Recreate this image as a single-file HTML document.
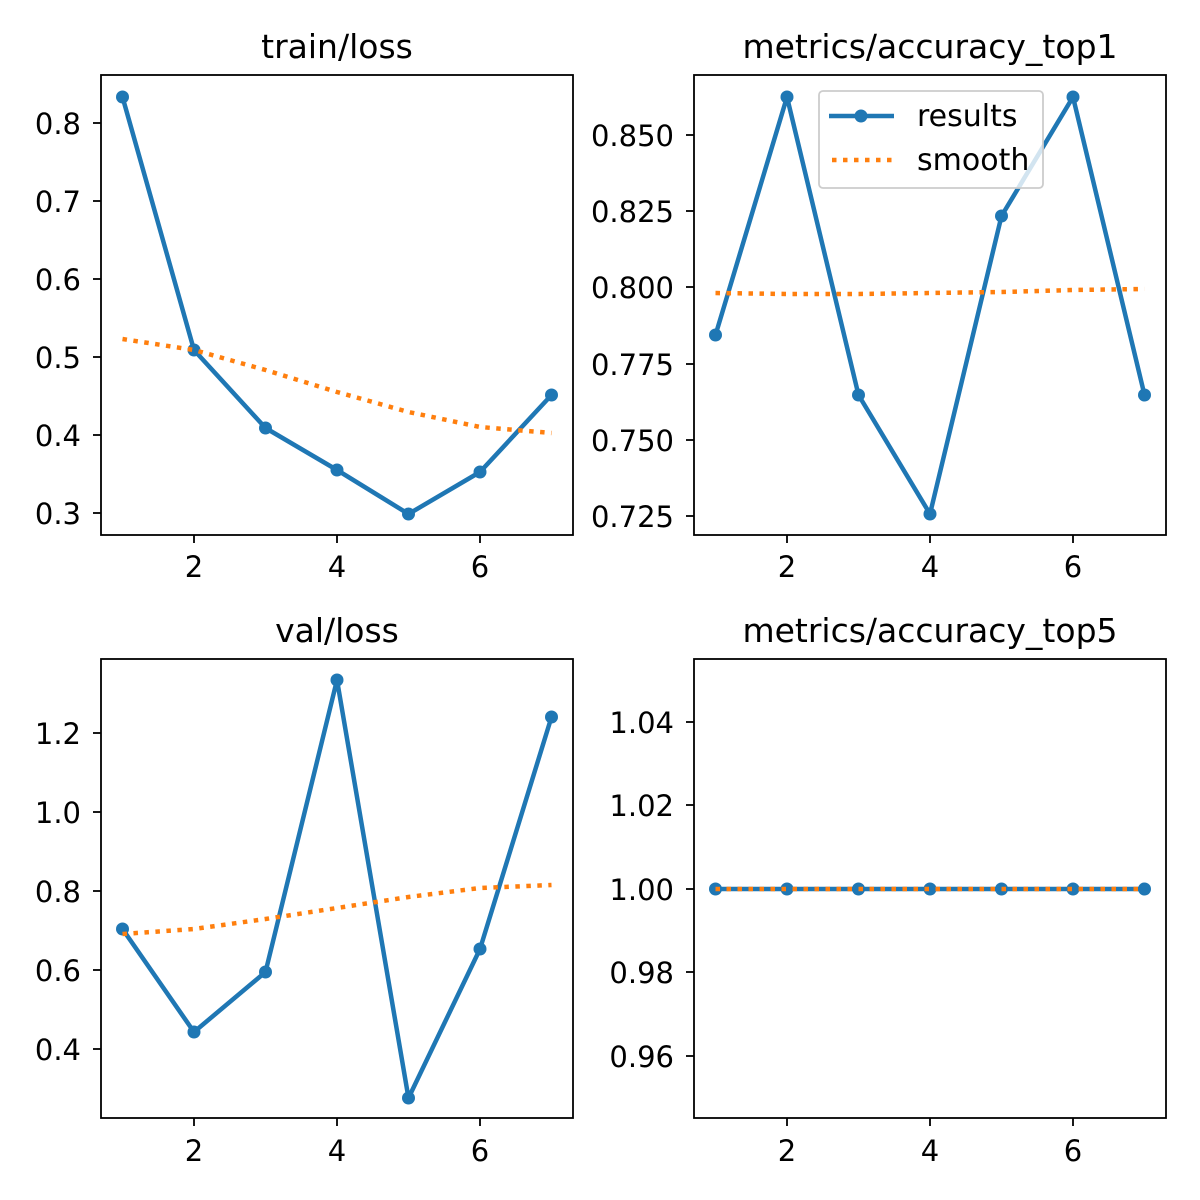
<!DOCTYPE html>
<html><head><meta charset="utf-8"><style>body{margin:0;background:#fff}svg{display:block}text{font-family:"DejaVu Sans","Liberation Sans",sans-serif;fill:#000}</style></head>
<body>
<svg width="1200" height="1200" viewBox="0 0 1200 1200" xmlns="http://www.w3.org/2000/svg">
<g font-size="29">
<!-- Panel 1 -->
<rect x="101" y="75" width="472" height="460" fill="none" stroke="#000" stroke-width="1.8"/>
<text x="337" y="58" font-size="33" text-anchor="middle">train/loss</text>
<g stroke="#000" stroke-width="1.8">
<line x1="93" y1="123" x2="101" y2="123"/><line x1="93" y1="201" x2="101" y2="201"/><line x1="93" y1="279" x2="101" y2="279"/><line x1="93" y1="357" x2="101" y2="357"/><line x1="93" y1="435" x2="101" y2="435"/><line x1="93" y1="513" x2="101" y2="513"/>
<line x1="194" y1="535" x2="194" y2="543"/><line x1="337" y1="535" x2="337" y2="543"/><line x1="480" y1="535" x2="480" y2="543"/>
</g>
<g text-anchor="end"><text x="81" y="134">0.8</text><text x="81" y="212">0.7</text><text x="81" y="290">0.6</text><text x="81" y="368">0.5</text><text x="81" y="446">0.4</text><text x="81" y="524">0.3</text></g>
<g text-anchor="middle"><text x="194" y="577">2</text><text x="337" y="577">4</text><text x="480" y="577">6</text></g>
<polyline points="122.5,97 194,350 265.5,428 337,470 408.5,514 480,472 551.5,395" fill="none" stroke="#1f77b4" stroke-width="4.5" stroke-linejoin="round"/>
<g fill="#1f77b4"><circle cx="122.5" cy="97" r="6.5"/><circle cx="194" cy="350" r="6.5"/><circle cx="265.5" cy="428" r="6.5"/><circle cx="337" cy="470" r="6.5"/><circle cx="408.5" cy="514" r="6.5"/><circle cx="480" cy="472" r="6.5"/><circle cx="551.5" cy="395" r="6.5"/></g>
<polyline points="122.5,339 194,350 265.5,370 337,392 408.5,412 480,427 551.5,433" fill="none" stroke="#ff7f0e" stroke-width="4.5" stroke-dasharray="4.5,6.5"/>

<!-- Panel 2 -->
<rect x="694" y="75" width="472" height="460" fill="none" stroke="#000" stroke-width="1.8"/>
<text x="930" y="58" font-size="33" text-anchor="middle">metrics/accuracy_top1</text>
<g stroke="#000" stroke-width="1.8">
<line x1="686" y1="135" x2="694" y2="135"/><line x1="686" y1="211" x2="694" y2="211"/><line x1="686" y1="287" x2="694" y2="287"/><line x1="686" y1="364" x2="694" y2="364"/><line x1="686" y1="440" x2="694" y2="440"/><line x1="686" y1="516" x2="694" y2="516"/>
<line x1="787" y1="535" x2="787" y2="543"/><line x1="930" y1="535" x2="930" y2="543"/><line x1="1073" y1="535" x2="1073" y2="543"/>
</g>
<g text-anchor="end"><text x="674" y="146">0.850</text><text x="674" y="222">0.825</text><text x="674" y="298">0.800</text><text x="674" y="375">0.775</text><text x="674" y="451">0.750</text><text x="674" y="527">0.725</text></g>
<g text-anchor="middle"><text x="787" y="577">2</text><text x="930" y="577">4</text><text x="1073" y="577">6</text></g>
<polyline points="715.5,335 787,97 858.5,395 930,514 1001.5,216 1073,97 1144.5,395" fill="none" stroke="#1f77b4" stroke-width="4.5" stroke-linejoin="round"/>
<g fill="#1f77b4"><circle cx="715.5" cy="335" r="6.5"/><circle cx="787" cy="97" r="6.5"/><circle cx="858.5" cy="395" r="6.5"/><circle cx="930" cy="514" r="6.5"/><circle cx="1001.5" cy="216" r="6.5"/><circle cx="1073" cy="97" r="6.5"/><circle cx="1144.5" cy="395" r="6.5"/></g>
<polyline points="715.5,293 787,294 858.5,294 930,293 1001.5,292 1073,290 1144.5,289" fill="none" stroke="#ff7f0e" stroke-width="4.5" stroke-dasharray="4.5,6.5"/>
<rect x="819" y="91" width="224" height="97" rx="4" fill="#fff" fill-opacity="0.8" stroke="#ccc" stroke-width="1.8"/>
<line x1="829" y1="116" x2="894" y2="116" stroke="#1f77b4" stroke-width="4.5"/><circle cx="861" cy="116" r="6.5" fill="#1f77b4"/>
<line x1="832" y1="160" x2="894" y2="160" stroke="#ff7f0e" stroke-width="4.5" stroke-dasharray="4.5,6.5"/>
<text x="917" y="126" font-size="30">results</text><text x="917" y="170" font-size="30">smooth</text>

<!-- Panel 3 -->
<rect x="101" y="659" width="472" height="459" fill="none" stroke="#000" stroke-width="1.8"/>
<text x="337" y="642" font-size="33" text-anchor="middle">val/loss</text>
<g stroke="#000" stroke-width="1.8">
<line x1="93" y1="733" x2="101" y2="733"/><line x1="93" y1="812" x2="101" y2="812"/><line x1="93" y1="891" x2="101" y2="891"/><line x1="93" y1="970" x2="101" y2="970"/><line x1="93" y1="1049" x2="101" y2="1049"/>
<line x1="194" y1="1118" x2="194" y2="1126"/><line x1="337" y1="1118" x2="337" y2="1126"/><line x1="480" y1="1118" x2="480" y2="1126"/>
</g>
<g text-anchor="end"><text x="81" y="744">1.2</text><text x="81" y="823">1.0</text><text x="81" y="902">0.8</text><text x="81" y="981">0.6</text><text x="81" y="1060">0.4</text></g>
<g text-anchor="middle"><text x="194" y="1161">2</text><text x="337" y="1161">4</text><text x="480" y="1161">6</text></g>
<polyline points="122.5,929 194,1032 265.5,972 337,680 408.5,1098 480,949 551.5,717" fill="none" stroke="#1f77b4" stroke-width="4.5" stroke-linejoin="round"/>
<g fill="#1f77b4"><circle cx="122.5" cy="929" r="6.5"/><circle cx="194" cy="1032" r="6.5"/><circle cx="265.5" cy="972" r="6.5"/><circle cx="337" cy="680" r="6.5"/><circle cx="408.5" cy="1098" r="6.5"/><circle cx="480" cy="949" r="6.5"/><circle cx="551.5" cy="717" r="6.5"/></g>
<polyline points="122.5,934 194,929 265.5,919 337,908 408.5,897 480,888 551.5,885" fill="none" stroke="#ff7f0e" stroke-width="4.5" stroke-dasharray="4.5,6.5"/>

<!-- Panel 4 -->
<rect x="694" y="659" width="472" height="459" fill="none" stroke="#000" stroke-width="1.8"/>
<text x="930" y="642" font-size="33" text-anchor="middle">metrics/accuracy_top5</text>
<g stroke="#000" stroke-width="1.8">
<line x1="686" y1="722" x2="694" y2="722"/><line x1="686" y1="805" x2="694" y2="805"/><line x1="686" y1="889" x2="694" y2="889"/><line x1="686" y1="972" x2="694" y2="972"/><line x1="686" y1="1056" x2="694" y2="1056"/>
<line x1="787" y1="1118" x2="787" y2="1126"/><line x1="930" y1="1118" x2="930" y2="1126"/><line x1="1073" y1="1118" x2="1073" y2="1126"/>
</g>
<g text-anchor="end"><text x="674" y="733">1.04</text><text x="674" y="816">1.02</text><text x="674" y="900">1.00</text><text x="674" y="983">0.98</text><text x="674" y="1067">0.96</text></g>
<g text-anchor="middle"><text x="787" y="1161">2</text><text x="930" y="1161">4</text><text x="1073" y="1161">6</text></g>
<line x1="715.5" y1="889" x2="1144.5" y2="889" stroke="#1f77b4" stroke-width="4.5"/>
<g fill="#1f77b4"><circle cx="715.5" cy="889" r="6.5"/><circle cx="787" cy="889" r="6.5"/><circle cx="858.5" cy="889" r="6.5"/><circle cx="930" cy="889" r="6.5"/><circle cx="1001.5" cy="889" r="6.5"/><circle cx="1073" cy="889" r="6.5"/><circle cx="1144.5" cy="889" r="6.5"/></g>
<line x1="715.5" y1="889" x2="1144.5" y2="889" stroke="#ff7f0e" stroke-width="4.5" stroke-dasharray="4.5,6.5"/>
</g>
</svg>
</body></html>
